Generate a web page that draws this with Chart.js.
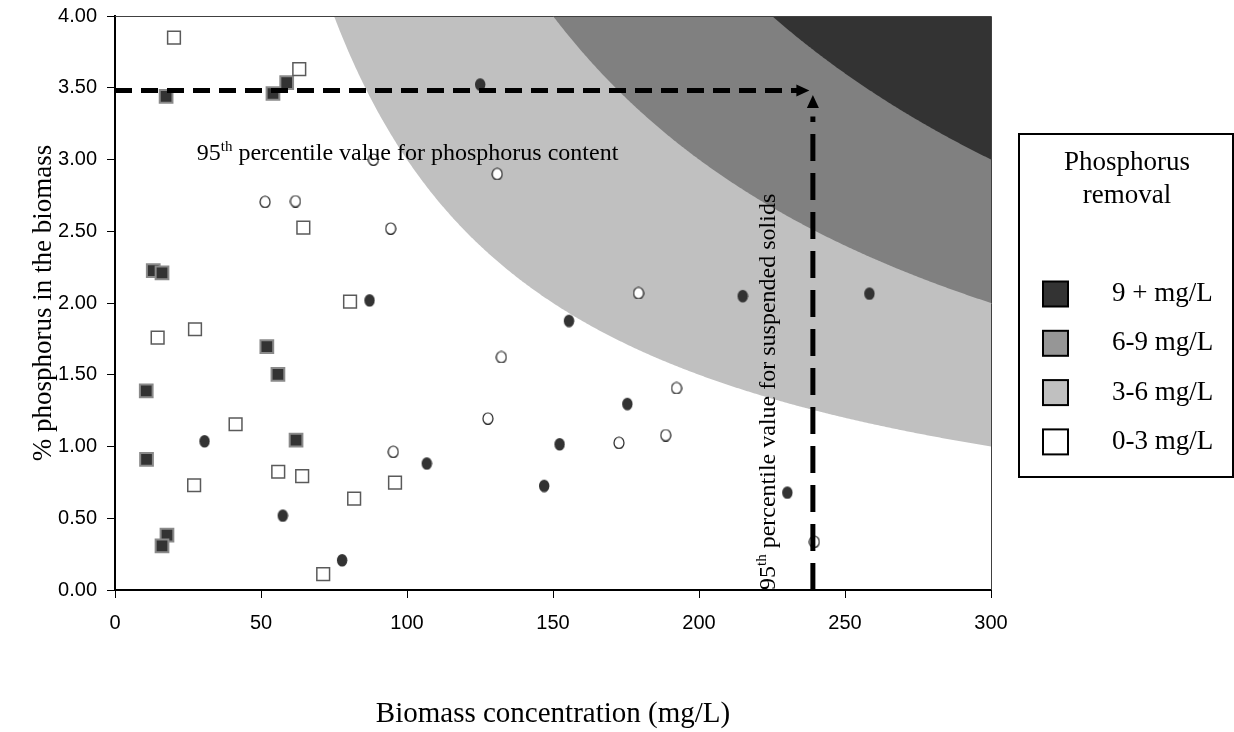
<!DOCTYPE html>
<html>
<head>
<meta charset="utf-8">
<script src="https://cdn.jsdelivr.net/npm/chart.js"></script>
<title>Phosphorus removal</title>
<style>
  body { margin: 0; background: #fff; }
</style>
</head>
<body>
<canvas id="myChart" width="1234" height="732"></canvas>

<script>
// scatter data (x = biomass mg/L, y = % P)
const openSqX = [20.2, 63.1, 64.5, 80.5, 14.6, 27.4, 41.3, 27.1, 55.9, 64.1, 95.9, 81.9, 71.3];
const openSqY = [3.85, 3.63, 2.525, 2.01, 1.758, 1.817, 1.155, 0.73, 0.824, 0.794, 0.748, 0.636, 0.111];

const darkSqX = [17.5, 54.1, 58.8, 13.1, 16.1, 52.0, 55.8, 10.7, 62.0, 10.8, 17.8, 16.1];
const darkSqY = [3.44, 3.46, 3.535, 2.225, 2.21, 1.696, 1.503, 1.387, 1.045, 0.91, 0.383, 0.307];

const openCircX = [88.5, 51.4, 61.8, 94.4, 130.9, 95.3, 179.3, 132.3, 192.3, 127.7, 172.6, 188.6, 239.5];
const openCircY = [3.0, 2.706, 2.71, 2.52, 2.90, 0.964, 2.07, 1.624, 1.408, 1.196, 1.027, 1.08, 0.337];

const darkCircX = [87.1, 30.6, 57.4, 77.7, 125, 214.9, 155.4, 175.4, 152.2, 106.7, 146.9, 230.2, 258.3];
const darkCircY = [2.02, 1.038, 0.52, 0.209, 3.524, 2.05, 1.877, 1.298, 1.017, 0.883, 0.727, 0.68, 2.067];

// 95th percentile guide lines
const pctP = 3.48;      // % phosphorus
const pctSS = 239;      // suspended solids mg/L

// removal bands: removal (mg/L) = biomass * %P / 100
const removalLevels = [3, 6, 9];
const bandColors = ['#c0c0c0', '#808080', '#333333'];

const legendLabels = ['9 + mg/L', '6-9 mg/L', '3-6 mg/L', '0-3 mg/L'];
const legendColors = ['#333333', '#969696', '#c0c0c0', '#ffffff'];

const xTicks = [0, 50, 100, 150, 200, 250, 300];
const yTicks = [0, 0.5, 1, 1.5, 2, 2.5, 3, 3.5, 4];

const SERIF = '"Liberation Serif", "Times New Roman", serif';
const SANS = '"Liberation Sans", Arial, sans-serif';

const pts = (xs, ys) => xs.map((v, i) => ({x: v, y: ys[i]}));

// little ellipse markers, the circles in the original are slightly tall
function ellipseMark(fill, stroke, rx, ry) {
  const c = document.createElement('canvas');
  c.width = rx * 2 + 2; c.height = ry * 2 + 2;
  const g = c.getContext('2d');
  g.beginPath();
  g.ellipse(rx + 1, ry + 1, rx, ry, 0, 0, Math.PI * 2);
  g.fillStyle = fill; g.fill();
  if (stroke) { g.lineWidth = 1.2; g.strokeStyle = stroke; g.stroke(); }
  return c;
}

const bandsPlugin = {
  id: 'bands',
  beforeDatasetsDraw(chart) {
    const {ctx, chartArea: a, scales: {x, y}} = chart;
    ctx.save();
    ctx.beginPath();
    ctx.rect(a.left, a.top, a.right - a.left, a.bottom - a.top);
    ctx.clip();
    removalLevels.forEach((lvl, i) => {
      const c = lvl * 100;
      const x0 = c / y.max;
      ctx.beginPath();
      ctx.moveTo(x.getPixelForValue(x0), a.top);
      for (let v = x0; v <= x.max; v += 0.5) {
        ctx.lineTo(x.getPixelForValue(v), y.getPixelForValue(c / v));
      }
      ctx.lineTo(a.right, y.getPixelForValue(c / x.max));
      ctx.lineTo(a.right, a.top);
      ctx.closePath();
      ctx.fillStyle = bandColors[i];
      ctx.fill();
    });
    ctx.restore();
  }
};

function supText(ctx, x, y, big) {
  ctx.font = '24px ' + SERIF;
  ctx.fillText('95', x, y);
  let w = ctx.measureText('95').width;
  ctx.font = '15px ' + SERIF;
  ctx.fillText('th', x + w, y - 9);
  w += ctx.measureText('th').width;
  ctx.font = '24px ' + SERIF;
  ctx.fillText(big, x + w, y);
}

const notesPlugin = {
  id: 'notes',
  afterDatasetsDraw(chart) {
    const {ctx, chartArea: a, scales: {x, y}} = chart;
    ctx.save();
    ctx.fillStyle = '#000';

    // arrow heads
    const hx = x.getPixelForValue(237.8), hy = y.getPixelForValue(pctP);
    ctx.beginPath();
    ctx.moveTo(hx, hy); ctx.lineTo(hx - 13, hy - 6); ctx.lineTo(hx - 13, hy + 6);
    ctx.closePath(); ctx.fill();
    const vx = x.getPixelForValue(pctSS), vy = y.getPixelForValue(3.45);
    ctx.beginPath();
    ctx.moveTo(vx, vy); ctx.lineTo(vx - 6, vy + 13); ctx.lineTo(vx + 6, vy + 13);
    ctx.closePath(); ctx.fill();

    // labels
    ctx.textBaseline = 'alphabetic';
    ctx.textAlign = 'left';
    supText(ctx, x.getPixelForValue(28), y.getPixelForValue(3.0), ' percentile value for phosphorus content');

    ctx.translate(x.getPixelForValue(226), y.getPixelForValue(0));
    ctx.rotate(-Math.PI / 2);
    supText(ctx, 0, 0, ' percentile value for suspended solids');
    ctx.restore();
  },
  afterDraw(chart) {
    const {ctx, chartArea: a} = chart;
    ctx.save();
    // top / right frame of the plot
    ctx.strokeStyle = '#404040';
    ctx.lineWidth = 1;
    ctx.beginPath();
    ctx.moveTo(a.left, a.top + 0.5); ctx.lineTo(a.right + 0.5, a.top + 0.5); ctx.lineTo(a.right + 0.5, a.bottom);
    ctx.stroke();

    // legend box
    ctx.strokeStyle = '#000';
    ctx.lineWidth = 2;
    ctx.strokeRect(1019, 134, 214, 343);
    ctx.fillStyle = '#000';
    ctx.font = '27px ' + SERIF;
    ctx.textAlign = 'center';
    ctx.textBaseline = 'middle';
    ctx.fillText('Phosphorus', 1127, 163);
    ctx.fillText('removal', 1127, 196);
    ctx.textAlign = 'left';
    legendLabels.forEach((t, i) => {
      const cy = 294 + i * 49.3;
      ctx.fillStyle = legendColors[i];
      ctx.fillRect(1043, cy - 12.5, 25, 25);
      ctx.strokeRect(1043, cy - 12.5, 25, 25);
      ctx.fillStyle = '#000';
      ctx.fillText(t, 1112, cy);
    });
    ctx.restore();
  }
};

const data = {
  datasets: [
    {
      type: 'line', label: 'P 95th', order: 0,
      data: [{x: 0, y: pctP}, {x: 234, y: pctP}],
      borderColor: '#000', borderWidth: 5, borderDash: [17, 9],
      pointRadius: 0, fill: false
    },
    {
      type: 'line', label: 'SS 95th', order: 0,
      data: [{x: pctSS, y: 0}, {x: pctSS, y: 3.3}],
      borderColor: '#000', borderWidth: 5, borderDash: [27, 12],
      pointRadius: 0, fill: false
    },
    {
      label: 'open squares', order: 1, data: pts(openSqX, openSqY),
      pointStyle: 'rect', pointRadius: 9, backgroundColor: '#fff',
      borderColor: '#5a5a5a', borderWidth: 1.5
    },
    {
      label: 'dark squares', order: 1, data: pts(darkSqX, darkSqY),
      pointStyle: 'rect', pointRadius: 9, backgroundColor: '#333',
      borderColor: '#8a8a8a', borderWidth: 2
    },
    {
      label: 'open circles', order: 1, data: pts(openCircX, openCircY),
      pointStyle: ellipseMark('#fff', '#222', 5, 5.7)
    },
    {
      label: 'dark circles', order: 1, data: pts(darkCircX, darkCircY),
      pointStyle: ellipseMark('#333', null, 5.2, 6.3)
    }
  ]
};

const config = {
  type: 'scatter',
  data: data,
  plugins: [bandsPlugin, notesPlugin],
  options: {
    responsive: false,
    animation: false,
    layout: { padding: { top: 16, right: 243, left: 0, bottom: 0 } },
    plugins: { legend: { display: false }, tooltip: { enabled: false } },
    scales: {
      x: {
        type: 'linear', min: 0, max: 300,
        afterBuildTicks: s => { s.ticks = xTicks.map(v => ({value: v})); },
        afterFit: s => { s.height = 142; },
        ticks: { color: '#000', font: { family: SANS, size: 20 }, padding: 13, maxRotation: 0 },
        grid: { drawOnChartArea: false, tickLength: 8, color: '#000' },
        border: { color: '#000', width: 2 },
        title: {
          display: true, text: 'Biomass concentration (mg/L)', color: '#000',
          font: { family: SERIF, size: 29 }, padding: { top: 0, bottom: 0 }
        }
      },
      y: {
        type: 'linear', min: 0, max: 4,
        afterBuildTicks: s => { s.ticks = yTicks.map(v => ({value: v})); },
        afterFit: s => { s.width = 115; s.paddingTop = 0; s.paddingBottom = 0; },
        ticks: { color: '#000', font: { family: SANS, size: 20 }, padding: 10,
                 callback: v => v.toFixed(2) },
        grid: { drawOnChartArea: false, tickLength: 8, color: '#000' },
        border: { color: '#000', width: 2 },
        title: {
          display: true, text: '% phosphorus in the biomass', color: '#000',
          font: { family: SERIF, size: 27 }, padding: { top: 28, bottom: 0 }
        }
      }
    }
  }
};

const myChart = new Chart(document.getElementById('myChart'), config);
</script>
</body>
</html>
